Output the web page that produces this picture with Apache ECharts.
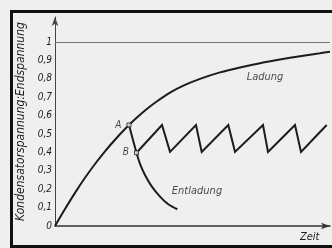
<!DOCTYPE html>
<html>
<head>
<meta charset="utf-8">
<script src="https://cdn.jsdelivr.net/npm/echarts@6/dist/echarts.min.js"></script>
<style>
  html, body { margin: 0; padding: 0; background: #efefef; }
  #chart { width: 332px; height: 248px; }
</style>
</head>
<body>
<div id="chart"></div>
<script>
// Ladung (charging curve)
var chargeT = [0, 10, 20, 30, 40, 50, 60, 70, 80, 90, 100, 115, 130, 145, 165, 185, 205, 225, 245, 265, 275];
var chargeV = [0, 0.092, 0.180, 0.262, 0.337, 0.406, 0.469, 0.527, 0.580, 0.628, 0.670, 0.725, 0.767, 0.800, 0.835, 0.862, 0.885, 0.905, 0.923, 0.939, 0.947];

// Entladung (discharge curve from A)
var dischargeT = [74, 81.5, 85, 90, 96.7, 105, 113.3, 122.3];
var dischargeV = [0.549, 0.398, 0.338, 0.277, 0.215, 0.160, 0.118, 0.091];

// sawtooth between B and A levels
var sawT = [81.5, 107, 115, 141, 146.7, 173.3, 180, 208, 213, 240, 246, 271.7];
var sawV = [0.398, 0.549, 0.403, 0.549, 0.403, 0.549, 0.403, 0.549, 0.403, 0.549, 0.403, 0.549];

var pointNames = ['A', 'B'];
var pointT = [74, 81.5];
var pointV = [0.549, 0.398];

var yTicks = [0, 0.1, 0.2, 0.3, 0.4, 0.5, 0.6, 0.7, 0.8, 0.9, 1];

var noteNames = ['Ladung', 'Entladung'];
var noteT = [210, 142];
var noteV = [0.81, 0.19];

function pairs(xs, ys) {
    return xs.map(function (x, i) { return [x, ys[i]]; });
}

var chart = echarts.init(document.getElementById('chart'));
var ink = '#1c1c1c';
var font = 'DejaVu Sans Condensed, DejaVu Sans, sans-serif';

var option = {
    backgroundColor: '#efefef',
    animation: false,
    grid: { left: 55, right: 2, top: 17, bottom: 22 },
    graphic: [{
        type: 'rect',
        shape: { x: 11.5, y: 11.5, width: 330, height: 235 },
        style: { fill: 'none', stroke: '#111', lineWidth: 3 },
        silent: true
    }],
    xAxis: {
        type: 'value',
        min: 0,
        max: 275,
        name: 'Zeit',
        nameLocation: 'end',
        nameGap: -30,
        nameTextStyle: {
            color: ink, fontStyle: 'italic', fontFamily: font, fontSize: 11,
            align: 'left', verticalAlign: 'top', padding: [6, 0, 0, 0]
        },
        axisLine: { lineStyle: { color: '#333', width: 1.5 }, symbol: ['none', 'arrow'], symbolSize: [5, 9] },
        axisTick: { show: false },
        axisLabel: { show: false },
        splitLine: { show: false }
    },
    yAxis: {
        type: 'value',
        min: 0,
        max: 1.136,
        interval: 0.1,
        name: 'Kondensatorspannung:Endspannung',
        nameLocation: 'middle',
        nameRotate: 90,
        nameGap: 18,
        nameTextStyle: { color: ink, fontStyle: 'italic', fontFamily: font, fontSize: 12 },
        axisLine: { lineStyle: { color: '#444', width: 1 }, symbol: ['none', 'arrow'], symbolSize: [5, 9] },
        axisTick: { show: false },
        splitLine: { show: false },
        axisLabel: {
            color: ink, fontStyle: 'italic', fontFamily: font, fontSize: 10, margin: 3,
            showMaxLabel: false,
            formatter: function (v) {
                for (var i = 0; i < yTicks.length; i++) {
                    if (Math.abs(yTicks[i] - v) < 1e-6) {
                        if (yTicks[i] === 0) return '0';
                        if (yTicks[i] === 1) return '1';
                        return yTicks[i].toFixed(1).replace('.', ',');
                    }
                }
                return '';
            }
        }
    },
    series: [
        {
            name: 'Ladung',
            type: 'line',
            data: pairs(chargeT, chargeV),
            smooth: 0.3,
            symbol: 'none',
            lineStyle: { color: ink, width: 2 },
            markLine: {
                silent: true,
                symbol: 'none',
                label: { show: false },
                lineStyle: { color: '#777', width: 1, type: 'solid' },
                data: [{ yAxis: 1 }]
            }
        },
        {
            name: 'Entladung',
            type: 'line',
            data: pairs(dischargeT, dischargeV),
            smooth: 0.3,
            symbol: 'none',
            lineStyle: { color: ink, width: 2 }
        },
        {
            name: 'Saegezahn',
            type: 'line',
            data: pairs(sawT, sawV),
            symbol: 'none',
            lineStyle: { color: ink, width: 2, join: 'miter' }
        },
        {
            name: 'Punkte',
            type: 'scatter',
            data: pointT.map(function (t, i) { return [t, pointV[i], pointNames[i]]; }),
            symbol: 'rect',
            symbolSize: 4,
            itemStyle: { color: '#efefef', borderColor: ink, borderWidth: 1 },
            label: {
                show: true,
                position: 'left',
                distance: 5,
                color: ink,
                fontStyle: 'italic',
                fontFamily: font,
                fontSize: 10,
                formatter: function (p) { return p.value[2]; }
            },
            z: 5
        },
        {
            name: 'Notizen',
            type: 'scatter',
            data: noteT.map(function (t, i) { return [t, noteV[i], noteNames[i]]; }),
            symbolSize: 1,
            itemStyle: { color: 'rgba(0,0,0,0)' },
            label: {
                show: true,
                position: 'inside',
                color: ink,
                fontStyle: 'italic',
                fontFamily: font,
                fontSize: 11,
                formatter: function (p) { return p.value[2]; }
            }
        }
    ]
};

chart.setOption(option);
</script>
</body>
</html>
